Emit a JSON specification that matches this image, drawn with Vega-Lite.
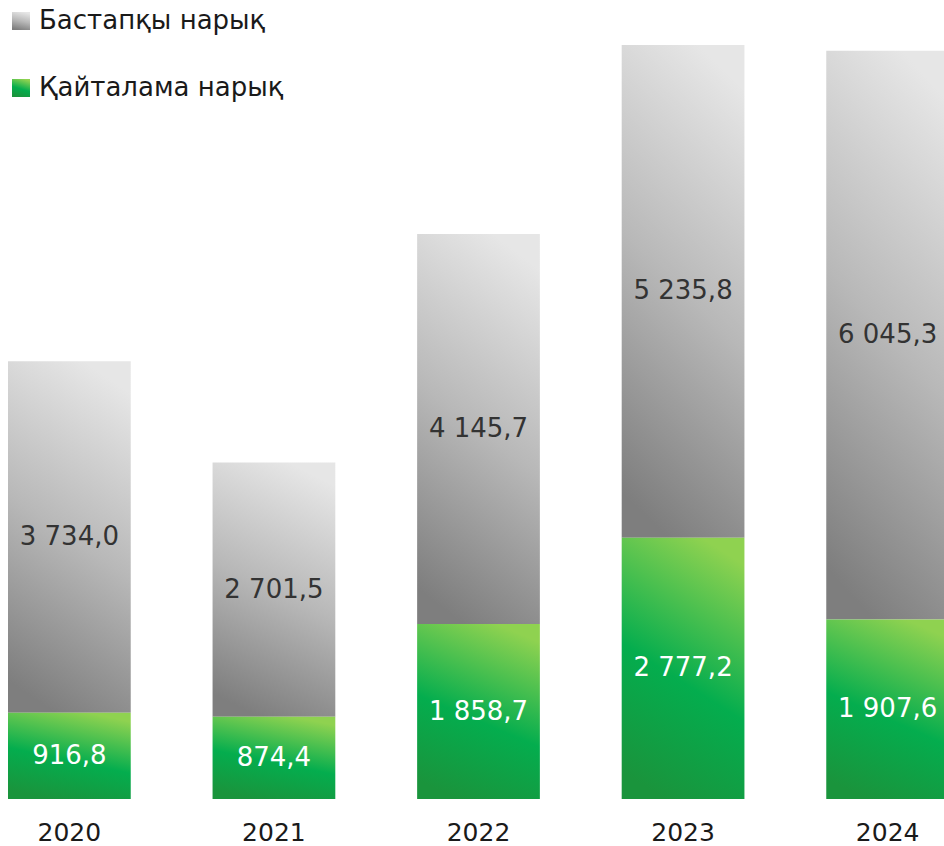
{
  "$schema": "https://vega.github.io/schema/vega-lite/v6.json",
  "autosize": {"type": "none"},
  "width": 944,
  "height": 799,
  "padding": {"left": 0, "top": 0, "right": 0, "bottom": 47},
  "background": "white",
  "config": {"view": {"stroke": null}, "font": "DejaVu Sans"},
  "data": {
    "values": [
      {"year": "2020", "series": "Бастапқы нарық", "ord": 2, "value": 3734.0, "label": "3 734,0"},
      {"year": "2020", "series": "Қайталама нарық", "ord": 1, "value": 916.8, "label": "916,8"},
      {"year": "2021", "series": "Бастапқы нарық", "ord": 2, "value": 2701.5, "label": "2 701,5"},
      {"year": "2021", "series": "Қайталама нарық", "ord": 1, "value": 874.4, "label": "874,4"},
      {"year": "2022", "series": "Бастапқы нарық", "ord": 2, "value": 4145.7, "label": "4 145,7"},
      {"year": "2022", "series": "Қайталама нарық", "ord": 1, "value": 1858.7, "label": "1 858,7"},
      {"year": "2023", "series": "Бастапқы нарық", "ord": 2, "value": 5235.8, "label": "5 235,8"},
      {"year": "2023", "series": "Қайталама нарық", "ord": 1, "value": 2777.2, "label": "2 777,2"},
      {"year": "2024", "series": "Бастапқы нарық", "ord": 2, "value": 6045.3, "label": "6 045,3"},
      {"year": "2024", "series": "Қайталама нарық", "ord": 1, "value": 1907.6, "label": "1 907,6"}
    ]
  },
  "encoding": {
    "x": {
      "field": "year",
      "type": "nominal",
      "scale": {"range": [8, 949], "paddingInner": 0.4, "paddingOuter": 0},
      "axis": {
        "title": null,
        "domain": false,
        "ticks": false,
        "labelAngle": 0,
        "labelFont": "DejaVu Sans",
        "labelFontSize": 25,
        "labelColor": "#1a1a1a",
        "labelPadding": 21
      }
    },
    "y": {
      "field": "value",
      "type": "quantitative",
      "stack": "zero",
      "scale": {"domain": [0, 8491], "nice": false},
      "axis": null
    },
    "order": {"field": "ord", "type": "quantitative"}
  },
  "layer": [
    {
      "mark": {"type": "bar"},
      "encoding": {
        "fill": {
          "field": "series",
          "type": "nominal",
          "scale": {
            "domain": ["Бастапқы нарық", "Қайталама нарық"],
            "range": [
              {"expr": "{gradient: 'linear', x1: 0.38, y1: 1, x2: 0.62, y2: 0, stops: [{offset: 0, color: '#7e7e7e'}, {offset: 0.5, color: '#b8b8b8'}, {offset: 1, color: '#e6e6e6'}]}"},
              {"expr": "{gradient: 'linear', x1: 0.35, y1: 1, x2: 0.65, y2: 0, stops: [{offset: 0, color: '#1a943c'}, {offset: 0.45, color: '#04ad4e'}, {offset: 1, color: '#8fd250'}]}"}
            ]
          },
          "legend": {
            "title": null,
            "orient": "none",
            "legendX": 8,
            "legendY": 8,
            "padding": 0,
            "symbolType": "square",
            "symbolSize": 324,
            "symbolStrokeWidth": 0,
            "labelFont": "DejaVu Sans",
            "labelFontSize": 26,
            "labelColor": "#1a1a1a",
            "labelOffset": 5,
            "labelLimit": 400,
            "rowPadding": 41
          }
        }
      }
    },
    {
      "mark": {"type": "text", "font": "DejaVu Sans", "fontSize": 26, "baseline": "middle", "align": "center"},
      "encoding": {
        "y": {"field": "value", "type": "quantitative", "stack": "zero", "bandPosition": 0.5},
        "text": {"field": "label", "type": "nominal"},
        "color": {
          "condition": {"test": "datum.series === 'Қайталама нарық'", "value": "#ffffff"},
          "value": "#333333"
        }
      }
    }
  ]
}
